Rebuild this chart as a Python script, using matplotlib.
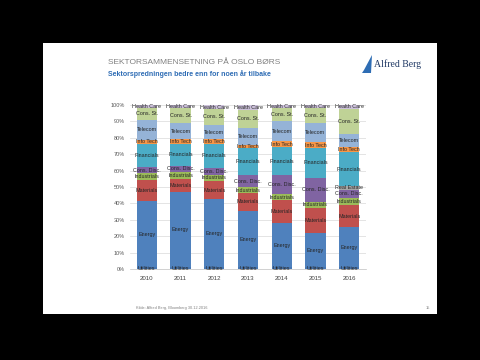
import matplotlib
matplotlib.use("Agg")
import numpy as np
from matplotlib import pyplot as plt
from matplotlib.patches import Rectangle, Polygon

plt.rcParams["font.family"] = ["Liberation Sans", "DejaVu Sans"]

years = ["2010", "2011", "2012", "2013", "2014", "2015", "2016"]

# sector weights in percent, bottom to top of each bar
utilities = [1.0, 1.0, 1.0, 1.0, 1.0, 1.0, 1.0]
energy = [40.5, 46.0, 41.5, 34.5, 27.0, 21.0, 24.6]
materials = [12.8, 8.0, 11.0, 10.8, 14.0, 15.2, 13.4]
industrials = [4.2, 4.0, 4.0, 3.7, 3.7, 3.7, 4.3]
cons_disc = [3.7, 4.0, 4.0, 7.3, 11.6, 14.6, 4.9]
real_estate = [0.0, 0.0, 0.0, 0.0, 0.0, 0.0, 2.4]
financials = [14.0, 13.5, 15.0, 16.5, 17.1, 18.3, 20.7]
info_tech = [2.5, 2.5, 2.5, 1.8, 3.6, 3.6, 3.1]
telecom = [12.2, 10.0, 9.0, 10.4, 12.2, 11.6, 7.9]
cons_st = [7.3, 9.0, 9.5, 11.0, 8.0, 9.2, 15.3]
health_care = [1.8, 2.0, 2.5, 3.0, 1.8, 1.8, 2.4]

series = [
    ("Utilities", utilities, "#4676B2"),
    ("Energy", energy, "#4F81BD"),
    ("Materials", materials, "#C0504D"),
    ("Industrials", industrials, "#9BBB59"),
    ("Cons. Disc.", cons_disc, "#8064A2"),
    ("Real Estate", real_estate, "#A6A6A6"),
    ("Financials", financials, "#4BACC6"),
    ("Info Tech", info_tech, "#F79646"),
    ("Telecom", telecom, "#95B3D7"),
    ("Cons. St.", cons_st, "#BFD296"),
    ("Health Care", health_care, "#CCC1DA"),
]

fig = plt.figure(figsize=(4.8, 3.6), dpi=100, facecolor="black")

# slide background with light grey shade on the left
bg = fig.add_axes([0, 0, 1, 1], zorder=-10)
bg.axis("off")
bg.add_patch(Rectangle((43, 43), 394, 271, facecolor="white", edgecolor="none"))
grad = np.linspace(0.93, 1.0, 60).reshape(1, -1)
bg.imshow(grad, aspect="auto", cmap="gray", vmin=0, vmax=1,
          extent=[43, 100, 314, 43])
bg.set_xlim(0, 480)
bg.set_ylim(360, 0)
bg.add_patch(Polygon([(364, 70), (372, 55), (371, 73), (362, 73)],
                     closed=True, facecolor="#2E6DB4", edgecolor="none"))

fig.text(108 / 480, 1 - 62 / 360, "SEKTORSAMMENSETNING PÅ OSLO BØRS",
         fontsize=6, color="#808080", va="center")
fig.text(108 / 480, 1 - 74 / 360, "Sektorspredningen bedre enn for noen år tilbake",
         fontsize=5, color="#2F6DB5", fontweight="bold", va="center")
fig.text(374 / 480, 1 - 64 / 360, "Alfred Berg", fontsize=7, color="#1F3864",
         family=["Liberation Serif", "DejaVu Serif"], va="center")

fig.text(136 / 480, 1 - 308 / 360, "Kilde: Alfred Berg, Bloomberg 30.12.2016",
         fontsize=2.8, color="#808080", va="center")
fig.text(428 / 480, 1 - 308 / 360, "15", fontsize=2.8, color="#808080",
         va="center", ha="center")

ax = fig.add_axes([130 / 480, 1 - 269 / 360, 236 / 480, 164 / 360], zorder=5)
ax.set_facecolor("none")
x = np.arange(len(years))
bottom = np.zeros(len(years))
for name, vals, color in series:
    vals = np.array(vals)
    ax.bar(x, vals, 0.6, bottom=bottom, color=color, zorder=2)
    for i, v in enumerate(vals):
        if v > 0:
            ax.text(x[i], bottom[i] + v / 2, name, ha="center", va="center",
                    fontsize=3.9, color="#262626", zorder=3)
    bottom += vals

ax.set_xlim(-0.5, 6.5)
ax.set_ylim(0, 100)
ax.set_yticks(np.arange(0, 101, 10))
ax.set_yticklabels([f"{v}%" for v in range(0, 101, 10)])
ax.set_xticks(x)
ax.set_xticklabels(years)
ax.tick_params(axis="both", length=0, labelsize=4, colors="#595959")
ax.tick_params(axis="x", pad=5, labelsize=4.4, colors="#404040")
ax.grid(axis="y", color="#D9D9D9", linewidth=0.5, zorder=0)
for s in ["top", "right", "left"]:
    ax.spines[s].set_visible(False)
ax.spines["bottom"].set_color("#BFBFBF")
ax.spines["bottom"].set_linewidth(0.5)

fig.savefig("out.png", dpi=100, facecolor="black")
